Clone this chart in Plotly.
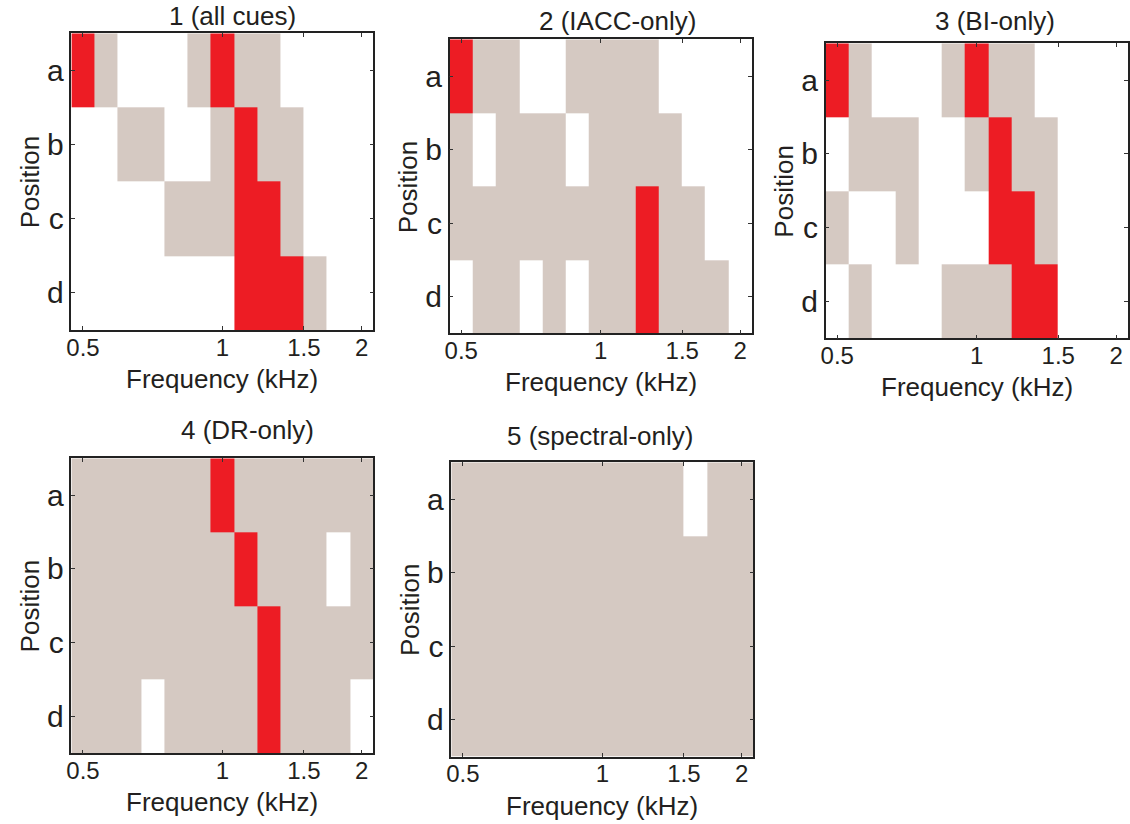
import math
import plotly.graph_objects as go

# ---------------- data ----------------
freqs_khz = [0.5, 0.561, 0.630, 0.707, 0.794, 0.891, 1.0, 1.122, 1.260, 1.414, 1.587, 1.782, 2.0]
positions = ["a", "b", "c", "d"]
x_tick_vals = [0.5, 1, 1.5, 2]
x_tick_text = ["0.5", "1", "1.5", "2"]

# 0 = not used (white), 1 = used (grey), 2 = best (red)
all_cues = [
    [2, 1, 0, 0, 0, 1, 2, 1, 1, 0, 0, 0, 0],
    [0, 0, 1, 1, 0, 0, 1, 2, 1, 1, 0, 0, 0],
    [0, 0, 0, 0, 1, 1, 1, 2, 2, 1, 0, 0, 0],
    [0, 0, 0, 0, 0, 0, 0, 2, 2, 2, 1, 0, 0],
]
iacc_only = [
    [2, 1, 1, 0, 0, 1, 1, 1, 1, 0, 0, 0, 0],
    [1, 0, 1, 1, 1, 0, 1, 1, 1, 1, 0, 0, 0],
    [1, 1, 1, 1, 1, 1, 1, 1, 2, 1, 1, 0, 0],
    [0, 1, 1, 0, 1, 0, 1, 1, 2, 1, 1, 1, 0],
]
bi_only = [
    [2, 1, 0, 0, 0, 1, 2, 1, 1, 0, 0, 0, 0],
    [0, 1, 1, 1, 0, 0, 1, 2, 1, 1, 0, 0, 0],
    [1, 0, 0, 1, 0, 0, 0, 2, 2, 1, 0, 0, 0],
    [0, 1, 0, 0, 0, 1, 1, 1, 2, 2, 0, 0, 0],
]
dr_only = [
    [1, 1, 1, 1, 1, 1, 2, 1, 1, 1, 1, 1, 1],
    [1, 1, 1, 1, 1, 1, 1, 2, 1, 1, 1, 0, 1],
    [1, 1, 1, 1, 1, 1, 1, 1, 2, 1, 1, 1, 1],
    [1, 1, 1, 0, 1, 1, 1, 1, 2, 1, 1, 1, 0],
]
spectral_only = [
    [1, 1, 1, 1, 1, 1, 1, 1, 1, 1, 0, 1, 1],
    [1, 1, 1, 1, 1, 1, 1, 1, 1, 1, 1, 1, 1],
    [1, 1, 1, 1, 1, 1, 1, 1, 1, 1, 1, 1, 1],
    [1, 1, 1, 1, 1, 1, 1, 1, 1, 1, 1, 1, 1],
]
panel_titles = ["1 (all cues)", "2 (IACC-only)", "3 (BI-only)", "4 (DR-only)", "5 (spectral-only)"]
panel_data = [all_cues, iacc_only, bi_only, dr_only, spectral_only]

# ---------------- style / layout ----------------
W, H = 1130, 824
WHITE = "#FFFFFF"
GREY = "#D5C9C2"
RED = "#ED1C24"
TXT = "#231F20"
FONT = "Liberation Sans, Arial, Helvetica, sans-serif"

# axes boxes in pixels: (x0, x1, y0, y1)
boxes = [
    (66.7, 370.0, 33.3, 330.0),
    (446.7, 750.0, 39.3, 333.3),
    (824.3, 1127.7, 43.3, 338.3),
    (66.7, 370.0, 458.3, 753.3),
    (448.3, 751.7, 462.3, 756.7),
]
title_pos = [(229, 16.5), (615, 21), (994.5, 21), (244, 430), (598, 436)]

colorscale = [
    [0.0, WHITE], [1 / 3, WHITE],
    [1 / 3, GREY], [2 / 3, GREY],
    [2 / 3, RED], [1.0, RED],
]

f0, f1 = freqs_khz[0], freqs_khz[1]
fn, fm = freqs_khz[-1], freqs_khz[-2]
left_edge = f0 ** 1.5 / f1 ** 0.5
right_edge = fn ** 1.5 / fm ** 0.5
x_range = [math.log10(left_edge), math.log10(right_edge)]

fig = go.Figure()
annotations = []

for i, (z, title, box, tpos) in enumerate(zip(panel_data, panel_titles, boxes, title_pos)):
    n = i + 1
    xa = "x" if n == 1 else f"x{n}"
    ya = "y" if n == 1 else f"y{n}"
    fig.add_trace(go.Heatmap(
        z=z, x=freqs_khz, y=positions,
        zmin=0, zmax=2, colorscale=colorscale, showscale=False,
        xaxis=xa, yaxis=ya, hoverinfo="skip",
    ))
    x0, x1, y0, y1 = box
    xkey = "xaxis" if n == 1 else f"xaxis{n}"
    ykey = "yaxis" if n == 1 else f"yaxis{n}"
    fig.layout[xkey] = dict(
        domain=[x0 / W, x1 / W], anchor=ya, type="log", range=x_range,
        tickmode="array", tickvals=x_tick_vals, ticktext=x_tick_text,
        ticks="inside", ticklen=4, tickwidth=1.2, tickcolor="#333",
        showline=True, linecolor="#222", linewidth=1.5, mirror="ticks",
        showgrid=False, zeroline=False, fixedrange=True,
        tickfont=dict(family=FONT, size=24, color=TXT), ticklabelstandoff=-5,
    )
    fig.layout[ykey] = dict(
        domain=[1 - y1 / H, 1 - y0 / H], anchor=xa, type="category",
        range=[3.5, -0.5],
        ticks="inside", ticklen=4, tickwidth=1.2, tickcolor="#333",
        showline=True, linecolor="#222", linewidth=1.5, mirror="ticks",
        showgrid=False, zeroline=False, fixedrange=True,
        tickfont=dict(family=FONT, size=30, color=TXT), ticklabelstandoff=0,
    )
    # panel title
    annotations.append(dict(
        text=title, x=tpos[0] / W, y=1 - tpos[1] / H, xref="paper", yref="paper",
        xanchor="center", yanchor="middle", showarrow=False,
        font=dict(family=FONT, size=26, color=TXT),
    ))
    # x label
    annotations.append(dict(
        text="Frequency (kHz)", x=(x0 + x1) / 2 / W, y=1 - (y1 + 49) / H,
        xref="paper", yref="paper", xanchor="center", yanchor="middle",
        showarrow=False, font=dict(family=FONT, size=26, color=TXT),
    ))
    # y label
    annotations.append(dict(
        text="Position", x=(x0 - 42) / W, y=1 - (y0 + y1) / 2 / H,
        xref="paper", yref="paper", xanchor="center", yanchor="middle",
        textangle=-90, showarrow=False, font=dict(family=FONT, size=26, color=TXT),
    ))

fig.update_layout(
    width=W, height=H, margin=dict(l=0, r=0, t=0, b=0),
    paper_bgcolor="white", plot_bgcolor="white",
    annotations=annotations, showlegend=False,
)

fig.write_html(
    "out.html",
    config={"displayModeBar": False},
    post_script="document.body.style.margin='0';document.body.style.overflow='hidden';",
)
